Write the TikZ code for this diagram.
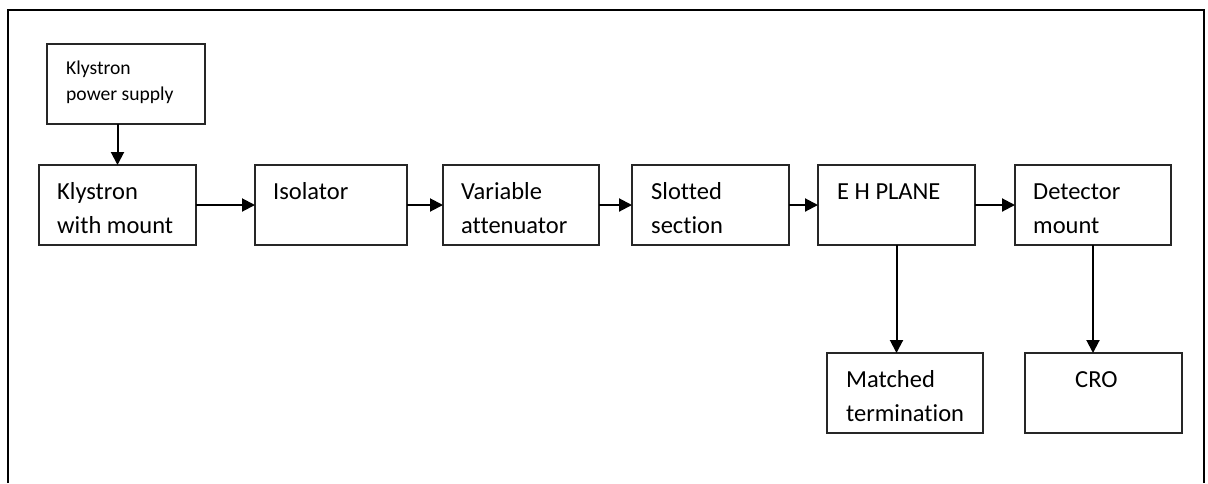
\documentclass[tikz,border=0pt]{standalone}
\usepackage{fontspec}
\setmainfont{Carlito}[Ligatures=NoCommon]
\usetikzlibrary{arrows.meta}
\tikzset{
  box/.style={draw=black!85, line width=1.5pt, inner sep=0pt, outer sep=0pt, anchor=north west},
  lbl/.style={anchor=base west, inner sep=0pt, align=left, font=\fontsize{24.5}{34}\selectfont},
  slbl/.style={anchor=base west, inner sep=0pt, align=left, font=\fontsize{19.6}{26}\selectfont},
  arr/.style={line width=2pt, -{Triangle[length=13pt,width=13pt]}},
  frame/.style={line width=2pt, black}
}
\begin{document}
\begin{tikzpicture}[x=1pt,y=-1pt]
\useasboundingbox (0,0) rectangle (1208,483);
\coordinate (fbl) at (8,483);
\coordinate (ftl) at (8,10);
\coordinate (ftr) at (1204,10);
\coordinate (fbr) at (1204,483);
\draw[frame] (fbl) -- (ftl) -- (ftr) -- (fbr);

\node[box, minimum width=158pt, minimum height=80pt] (kps) at (47,44) {};
\node[box, minimum width=157pt, minimum height=80pt] (kwm) at (39,165) {};
\node[box, minimum width=152pt, minimum height=80pt] (iso) at (255,165) {};
\node[box, minimum width=156pt, minimum height=80pt] (va) at (443,165) {};
\node[box, minimum width=157pt, minimum height=80pt] (ss) at (632,165) {};
\node[box, minimum width=157pt, minimum height=80pt] (eh) at (818,165) {};
\node[box, minimum width=156pt, minimum height=80pt] (dm) at (1015,165) {};
\node[box, minimum width=156pt, minimum height=80pt] (mt) at (827,353) {};
\node[box, minimum width=157pt, minimum height=80pt] (cro) at (1025,353) {};

% multi-line labels: anchor is on the baseline of the last line
\node[slbl] (tkps) at (66,100) {Klystron\\power supply};
\node[lbl] (tkwm) at (57,233) {Klystron\\with mount};
\node[lbl] (tiso) at (273,199) {Isolator};
\node[lbl] (tva) at (461,233) {Variable\\attenuator};
\node[lbl] (tss) at (651,233) {Slotted\\section};
\node[lbl] (teh) at (837,199) {E H PLANE};
\node[lbl] (tdm) at (1033,233) {Detector\\mount};
\node[lbl] (tmt) at (846,421) {Matched\\termination};
\node[lbl] (tcro) at (1075,387) {CRO};

\draw[arr] (kps.south -| kwm.north) -- (kwm.north);
\draw[arr] (kwm.east) -- (iso.west);
\draw[arr] (iso.east) -- (va.west);
\draw[arr] (va.east) -- (ss.west);
\draw[arr] (ss.east) -- (eh.west);
\draw[arr] (eh.east) -- (dm.west);
\draw[arr] (eh.south) -- (eh.south |- mt.north);
\draw[arr] (dm.south) -- (dm.south |- cro.north);
\end{tikzpicture}
\end{document}
